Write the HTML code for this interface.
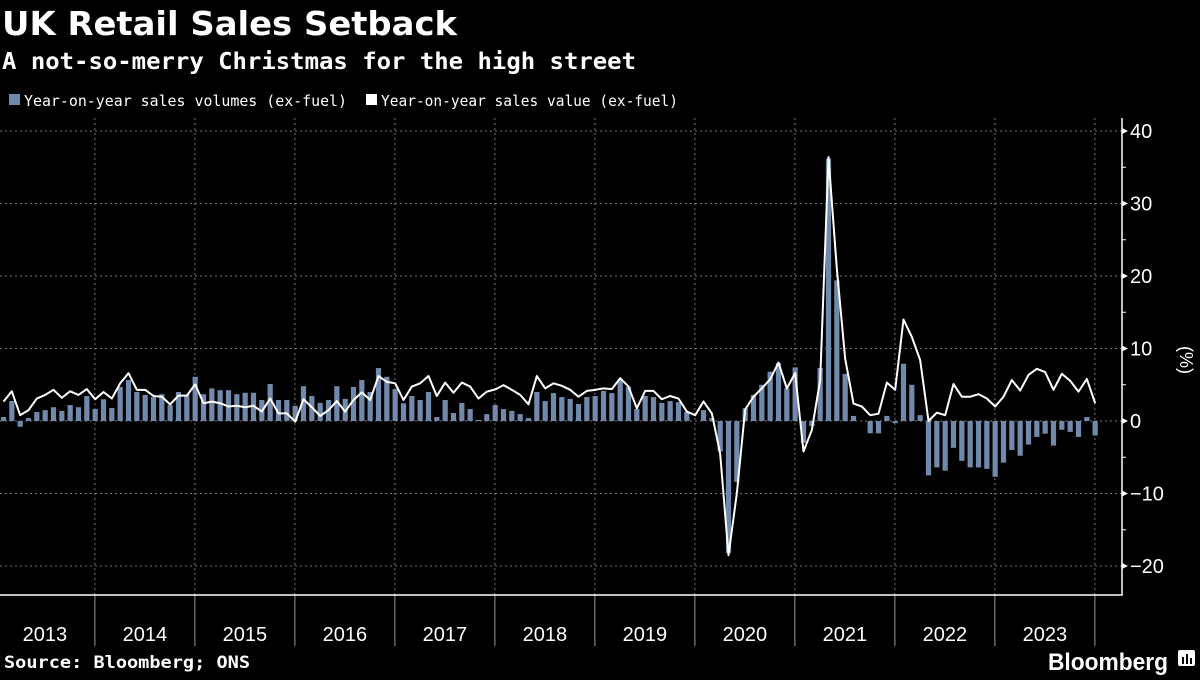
<!DOCTYPE html>
<html><head><meta charset="utf-8"><style>
html,body{margin:0;padding:0;background:#000;}
body{width:1200px;height:675px;overflow:hidden;font-family:"Liberation Sans",sans-serif;color:#fff;}
</style></head><body>
<svg width="1200" height="675" viewBox="0 0 1200 675" xmlns="http://www.w3.org/2000/svg" font-family="Liberation Sans, sans-serif">
<text x="2" y="35" font-size="33" font-weight="bold" fill="#fff" font-family="DejaVu Sans, sans-serif" textLength="455" lengthAdjust="spacingAndGlyphs">UK Retail Sales Setback</text>
<text x="2" y="69" font-size="23" font-weight="bold" fill="#fff" font-family="DejaVu Sans Mono, monospace" textLength="634" lengthAdjust="spacingAndGlyphs">A not-so-merry Christmas for the high street</text>
<g>
<rect x="9" y="94" width="11" height="11" fill="#7189ad"/>
<text x="24" y="106" font-size="15" fill="#fff" font-family="DejaVu Sans Mono, monospace" textLength="323" lengthAdjust="spacingAndGlyphs">Year-on-year sales volumes (ex-fuel)</text>
<rect x="366" y="94" width="11" height="11" fill="#fff"/>
<text x="381" y="106" font-size="15" fill="#fff" font-family="DejaVu Sans Mono, monospace" textLength="297" lengthAdjust="spacingAndGlyphs">Year-on-year sales value (ex-fuel)</text>
</g>
<g id="grid"></g>
<g id="bars"></g>
<g id="line"></g>
<g id="axes"></g>
<text transform="translate(1180,360) rotate(90)" font-size="18" fill="#fff" text-anchor="middle">(%)</text>
<text x="4" y="668" font-size="17" font-weight="bold" fill="#fff" font-family="DejaVu Sans Mono, monospace" textLength="246" lengthAdjust="spacingAndGlyphs">Source: Bloomberg; ONS</text>
<text x="1048" y="670" font-size="24" font-weight="bold" fill="#fff" textLength="120" lengthAdjust="spacingAndGlyphs">Bloomberg</text>
<g><rect x="1178" y="650" width="17" height="16" rx="2" fill="#fff"/><rect x="1182" y="657" width="2" height="7" fill="#000"/><rect x="1186" y="654" width="2" height="10" fill="#000"/><rect x="1190" y="658" width="2" height="6" fill="#000"/></g>
</svg>
<script>
const years=["2013","2014","2015","2016","2017","2018","2019","2020","2021","2022","2023"];
const yTicks=[40,30,20,10,0,-10,-20];
const volumes=[
0.55,2.76,-0.8,0.4,1.24,1.5,1.9,1.4,2.2,1.9,3.45,1.65,
3.0,1.8,4.7,5.65,4.0,3.6,3.3,3.7,2.2,4.0,3.6,6.1,
3.7,4.5,4.25,4.25,3.7,3.9,3.9,2.9,5.1,2.9,2.9,2.1,
4.8,3.45,2.5,2.9,4.8,3.05,4.7,5.65,4.0,7.3,6.1,4.4,
2.45,3.45,2.9,4.0,0.55,2.9,1.1,2.5,1.65,0.15,0.95,2.2,
1.65,1.4,0.95,0.4,4.0,2.75,3.85,3.3,3.05,2.35,3.3,3.45,
4.15,3.85,5.65,4.7,1.65,3.45,3.3,2.5,2.75,2.6,1.25,0,
1.5,0.4,-4.2,-18.2,-8.4,1.75,3.6,5.0,6.8,8.0,4.5,7.4,
-3.0,-0.7,7.3,36.2,19.4,6.5,0.7,0,-1.7,-1.7,0.7,-0.3,
7.9,5.0,0.8,-7.5,-6.4,-6.85,-3.7,-5.5,-6.4,-6.4,-6.6,-7.7,
-5.75,-4.0,-4.8,-3.25,-2.2,-1.75,-3.4,-1.2,-1.5,-2.2,0.55,-2.0];
const values=[
2.67,4.1,0.8,1.5,3.1,3.6,4.3,3.2,4.1,3.6,4.4,3.0,
4.0,3.1,5.2,6.6,4.3,4.3,3.45,3.35,2.3,3.5,3.5,5.05,
2.45,2.67,2.45,2.0,2.1,1.9,2.1,1.3,3.1,1.05,1.05,-0.1,
3.0,1.9,0.7,1.5,2.75,1.3,2.9,3.95,2.9,6.2,5.4,5.2,
2.9,4.75,5.2,6.2,3.45,5.3,3.9,5.3,4.75,3.1,4.05,4.35,
4.95,4.3,3.6,2.3,6.2,4.5,5.2,4.85,4.3,3.35,4.15,4.3,
4.5,4.4,5.9,4.75,1.75,4.15,4.15,3.0,3.45,3.1,1.3,0.8,
2.7,1.05,-4.5,-18.5,-10,1.6,3.35,4.5,5.75,8.05,4.5,6.6,
-4.2,-1.25,5.65,36.4,21,8.6,2.4,2.0,0.8,1.0,5.3,4.3,
14.0,11.6,8.4,0,1.15,0.8,5.1,3.35,3.35,3.7,3.1,2.0,
3.35,5.65,4.2,6.35,7.2,6.75,4.3,6.5,5.55,4.05,5.8,2.45];
const NS="http://www.w3.org/2000/svg";
const X0=3.5, MW=100/12, AX=1122, YB=595;
const xPos=i=>X0+i*MW;
const yPos=v=>421-v*7.25;
function mk(tag,attrs,parent){const e=document.createElementNS(NS,tag);for(const k in attrs)e.setAttribute(k,attrs[k]);parent.appendChild(e);return e;}
const grid=document.getElementById('grid'),bars=document.getElementById('bars'),line=document.getElementById('line'),axes=document.getElementById('axes');
yTicks.forEach(t=>{
 const g=mk('line',{x1:0,x2:AX,y1:yPos(t),y2:yPos(t),stroke:'#777','stroke-width':1,'stroke-dasharray':'2,3'},grid);
 
 
 const tri=mk('path',{d:`M${AX} ${yPos(t)-3}L${AX+6} ${yPos(t)}L${AX} ${yPos(t)+3}Z`,fill:'#fff'},axes);
 
 
 const lb=mk('text',{x:AX+8,y:yPos(t)+7,'font-size':20,fill:'#fff'},axes);
 lb.textContent=t<0?'\u2212'+(-t):String(t);
 
 
});
for(let t=35;t>=-15;t-=10){
 const m=mk('line',{x1:AX,x2:AX+4,y1:yPos(t),y2:yPos(t),stroke:'#fff','stroke-width':1},axes);
 
 
}
years.forEach((yr,i)=>{
 const bx=xPos(i*12+11)-0.3;
 const g=mk('line',{x1:bx,x2:bx,y1:118,y2:YB,stroke:'#777','stroke-width':1,'stroke-dasharray':'2,3'},grid);
 
 
 const tk=mk('line',{x1:bx,x2:bx,y1:YB,y2:646,stroke:'#999','stroke-width':1},axes);
 
 
 const lb=mk('text',{x:bx-50,y:641,'font-size':20,fill:'#fff','text-anchor':'middle'},axes);
 lb.textContent=yr;
 
 
});
volumes.forEach((v,i)=>{
 const y=Math.min(yPos(v),yPos(0));
 const r=mk('rect',{x:xPos(i)-2.6,y:y,width:5.2,height:Math.abs(yPos(v)-yPos(0)),fill:'#7189ad'},bars);
 
 
});
const pl=mk('polyline',{points:values.map((v,i)=>xPos(i)+','+yPos(v)).join(' '),fill:'none',stroke:'#fff','stroke-width':2,'stroke-linejoin':'round'},line);


const ax=mk('path',{d:`M0 ${YB}H${AX}V118`,fill:'none',stroke:'#fff','stroke-width':1.5},axes);


</script>
</body></html>
